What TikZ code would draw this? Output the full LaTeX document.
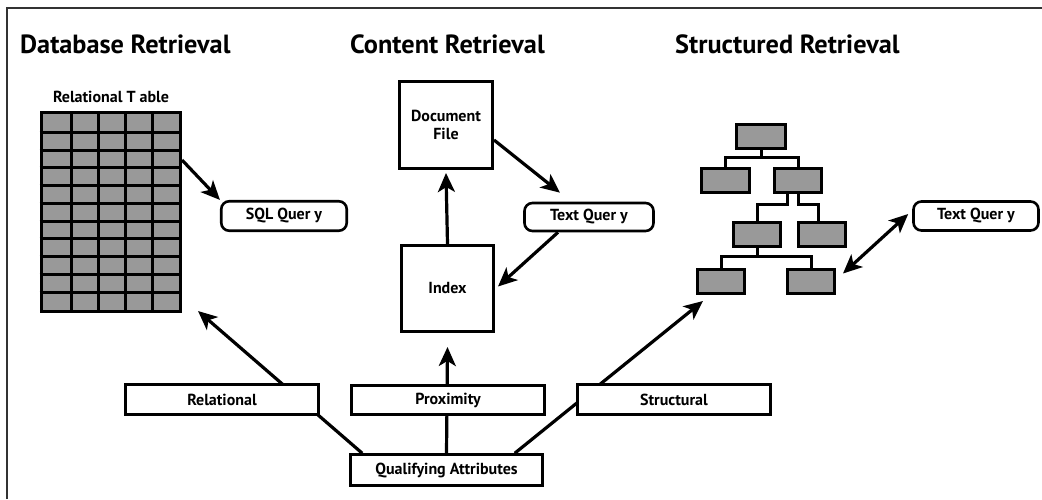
\documentclass[tikz,border=0pt]{standalone}
\usepackage{fontspec}
\setmainfont{PT Sans}
\usetikzlibrary{arrows.meta,calc}
\definecolor{cellgray}{RGB}{153,153,153}
\definecolor{framegray}{RGB}{50,50,50}
\begin{document}
\begin{tikzpicture}[x=1pt,y=-1pt,
  lbl/.style={font=\bfseries\fontsize{16}{18}\selectfont},
  box/.style={lbl,draw,line width=2.6pt,fill=white,inner sep=0pt,align=center},
  query/.style={box,rounded corners=8pt},
  cell/.style={draw,line width=3pt,fill=cellgray,inner sep=0pt},
  title/.style={font=\bfseries\fontsize{26.3}{30}\selectfont,anchor=base west,inner sep=0pt},
  arr/.style={line width=3.2pt,-{Stealth[length=19pt,width=17pt,inset=5pt]}},
  dblarr/.style={line width=3.2pt,{Stealth[length=19pt,width=17pt,inset=5pt]}-{Stealth[length=19pt,width=17pt,inset=5pt]}},
  link/.style={line width=3pt},
]
\useasboundingbox (0,0) rectangle (1042,499);

% frame
\draw[framegray,line width=1.8pt] (7,499) -- (7,8) -- (1042,8);

% column headings
\node[title] (tdb) at (20,53) {Database Retrieval};
\node[title] (tct) at (350,53) {Content Retrieval};
\node[title] (tst) at (675,53) {Structured Retrieval};

% relational table
\node[lbl,anchor=base] (tablelabel) at (111,102) {Relational T able};
\node[cell,minimum width=139.5pt,minimum height=199pt,anchor=north west] (table) at (39.5,111) {};
\foreach \i in {0,...,3}
  \draw[link] ($(table.north west)+(31.7+27*\i,0)$) -- ($(table.south west)+(31.7+27*\i,0)$);
\foreach \j in {0,...,9}
  \draw[link] ($(table.north west)+(0,21.3+17.77*\j)$) -- ($(table.north east)+(0,21.3+17.77*\j)$);

% query boxes
\node[query,minimum width=125.5pt,minimum height=29.5pt] (sql) at (284,216) {SQL Quer y};
\node[query,minimum width=129pt,minimum height=28pt] (tq1) at (589,217) {Text Quer y};
\node[query,minimum width=125pt,minimum height=29pt] (tq2) at (976,216) {Text Quer y};

% content retrieval boxes
\node[box,line width=3pt,minimum width=93pt,minimum height=87pt] (doc) at (446,125) {Document\\File};
\node[box,line width=3pt,minimum width=92pt,minimum height=86pt] (index) at (447.5,288.5) {Index};

% document tree
\node[cell,minimum width=49pt,minimum height=24pt] (r) at (761,136.5) {};
\node[cell,minimum width=48pt,minimum height=24pt] (a) at (725.5,180.5) {};
\node[cell,minimum width=47pt,minimum height=24pt] (b) at (798,180.5) {};
\node[cell,minimum width=47pt,minimum height=24pt] (c) at (757,234.5) {};
\node[cell,minimum width=47pt,minimum height=24pt] (d) at (822,234.5) {};
\node[cell,minimum width=47pt,minimum height=24pt] (e) at (721,281.5) {};
\node[cell,minimum width=47pt,minimum height=24pt] (f) at (811,281.5) {};
\draw[link] (r.south) -- ++(0,7) coordinate (rj);
\draw[link] (a.north) |- (rj) -| (b.north);
\draw[link] ($(b.south)+(-11,0)$) -- ++(0,10) -| (c.north);
\draw[link] (b.south) -- ++(0,10) -| ($(d.north)+(-4,0)$);
\draw[link] (c.south) -- ++(0,8) coordinate (cj);
\draw[link] (e.north) |- (cj) -| (f.north);

% qualifying attributes
\node[box,minimum width=192pt,minimum height=31pt] (qa) at (446.5,470) {Qualifying Attributes};

% arrows
\draw[arr] ($(table.north east)+(0,49)$) -- (sql.north west);
\draw[arr] ($(doc.east)+(0,15)$) -- ($(tq1.north)+(-29,-9)$);
\draw[arr] ($(tq1.south)+(-31,0)$) -- ($(index.east)+(3,-2)$);
\draw[arr] (index.north) -- ($(doc.south)+(0,3)$);
\draw[arr] ($(qa.north west)+(13,0)$) -- ($(table.south east)+(16,-2)$);
\draw[arr] (qa.north) -- ($(index.south)+(0,14)$);
\draw[arr] ($(qa.north east)+(-29,0)$) -- ($(e.south west)+(7,6)$);
\draw[dblarr] ($(f.east)+(7,-8)$) -- ($(tq2.west)+(-4,-2)$);

% attribute labels sitting on the arrows
\node[box,minimum width=193pt,minimum height=30pt] (rel) at (222,399.5) {Relational};
\node[box,minimum width=193pt,minimum height=29pt] (prox) at (448,400) {Proximity};
\node[box,minimum width=193pt,minimum height=30pt] (struc) at (674,399.5) {Structural};
\end{tikzpicture}
\end{document}
